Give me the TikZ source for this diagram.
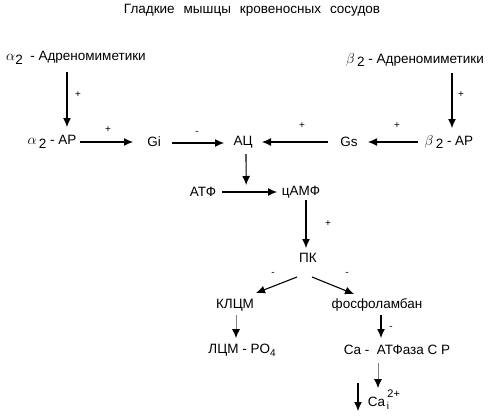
\documentclass[tikz,border=0pt]{standalone}
\usepackage{fontspec}
\setmainfont{Liberation Sans}
\usetikzlibrary{arrows.meta}
\newcommand\lowsub[1]{\raisebox{-3.5pt}{#1}}
\newcommand\smsub[1]{\raisebox{-3pt}{\fontsize{10}{11}\selectfont#1}}

\begin{document}
\begin{tikzpicture}[x=1pt, y=-1pt, font=\fontsize{13.5}{15}\selectfont,
    every node/.style={inner sep=1pt},
    arr/.style={line width=1.1pt, -{Latex[length=9pt, width=8pt]}},
    weak/.style={line width=0.8pt, gray, -{Latex[length=9pt, width=8pt, black]}},
    sgn/.style={font=\fontsize{10}{11}\selectfont, inner sep=0pt}]
    \useasboundingbox (0,0) rectangle (488,416);
    % nodes
    \node (title) at (252,10) {Гладкие\hspace{9pt}мышцы\hspace{9pt}кровеносных\hspace{9pt}сосудов};
    \node (amim) at (76,58) {$\alpha$\lowsub{2}\ \ - Адреномиметики};
    \node (bmim) at (415,60) {$\beta$\,\lowsub{2} - Адреномиметики};
    \node (aar) at (52,142) {$\alpha$\,\lowsub{2} - АР};
    \node (gi) at (154,142) {Gi};
    \node (ac) at (243,142) {АЦ};
    \node (gs) at (349,142) {Gs};
    \node (bar) at (449,142) {$\beta$\,\lowsub{2} - АР};
    \node (atp) at (203,192) {АТФ};
    \node (camp) at (301,192) {цАМФ};
    \node (pk) at (308,258) {ПК};
    \node (klcm) at (235,305) {КЛЦМ};
    \node (fosf) at (377,305) {фосфоламбан};
    \node (lcm) at (242,350) {ЛЦМ - PO\smsub{4}};
    \node (caatp) at (397,350) {Ca -\ \ АТФаза С Р};
    \node (cai) at (384,400) {Ca\,\raisebox{9pt}{\fontsize{11}{12}\selectfont 2+}\llap{\smsub{i}\hspace{11pt}}};
    \coordinate (dn1) at (358,383);
    \coordinate (dn2) at (358,411);
    % arrows
    \draw[arr] ([shift={(-9,14)}]amim.center) -- ([shift={(15,-15)}]aar.center);
    \draw[arr] ([shift={(37,13)}]bmim.center) -- ([shift={(3,-14)}]bar.center);
    \draw[arr] ([shift={(28,0)}]aar.center) -- ([shift={(-21,0)}]gi.center);
    \draw[arr] ([shift={(18,1)}]gi.center) -- ([shift={(-19,1)}]ac.center);
    \draw[arr] ([shift={(-21,0)}]gs.center) -- ([shift={(19,0)}]ac.center);
    \draw[arr] ([shift={(-31,0)}]bar.center) -- ([shift={(19,0)}]gs.center);
    \draw[arr] ([shift={(19,0)}]atp.center) -- coordinate[pos=0.44] (rx) ([shift={(-24,0)}]camp.center);
    \draw[arr] ([shift={(3,12)}]ac.center) -- ([shift={(0,-7)}]rx);
    \draw[arr] ([shift={(5,8)}]camp.center) -- ([shift={(-2,-10)}]pk.center);
    \draw[arr] ([shift={(-11,19)}]pk.center) -- ([shift={(21,-12)}]klcm.center);
    \draw[arr] ([shift={(4,19)}]pk.center) -- ([shift={(-23,-11)}]fosf.center);
    \draw[weak] ([shift={(1,10)}]klcm.center) -- ([shift={(-6,-12)}]lcm.center);
    \draw[arr] ([shift={(4,10)}]fosf.center) -- ([shift={(-16,-12)}]caatp.center);
    \draw[weak] ([shift={(-19,13)}]caatp.center) -- ([shift={(-6,-12)}]cai.center);
    \draw[arr] (dn1) -- (dn2);
    % signs
    \node[sgn] (s1) at (78,95) {+};
    \node[sgn] (s2) at (461,95) {+};
    \node[sgn] (s3) at (108,130) {+};
    \node[sgn] (s4) at (197,133) {-};
    \node[sgn] (s5) at (302,126) {+};
    \node[sgn] (s6) at (397,126) {+};
    \node[sgn] (s7) at (328,224) {+};
    \node[sgn] (s8) at (273,274) {-};
    \node[sgn] (s9) at (347,274) {-};
    \node[sgn] (s10) at (391,328) {-};
\end{tikzpicture}
\end{document}
